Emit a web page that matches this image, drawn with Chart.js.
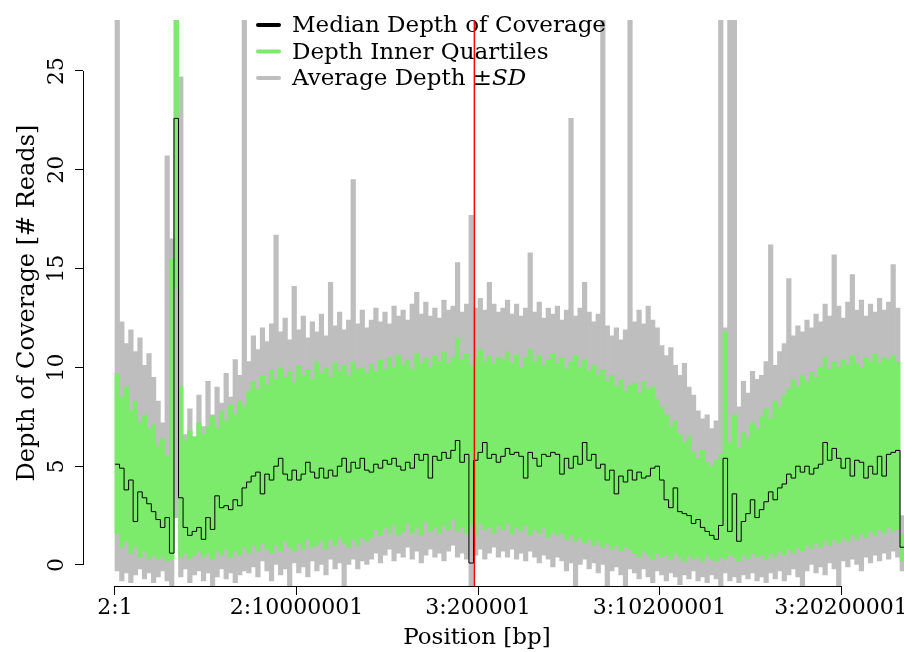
<!DOCTYPE html>
<html>
<head>
<meta charset="utf-8">
<style>
  html, body { margin: 0; padding: 0; background: #ffffff; }
</style>
</head>
<body>
<canvas id="depthChart" width="904" height="652"></canvas>
<script src="https://cdn.jsdelivr.net/npm/chart.js@4.4.1/dist/chart.umd.min.js"></script>
<script>
// genome axis in Mb (chr2 then chr3 concatenated), one value per 250 kb bin
var BIN_MB = 0.25;
var CHR_BOUNDARY_MB = 19.8;

var xTickValues = [0, 10, 20, 30, 40];
var xTickLabels = ['2:1', '2:10000001', '3:200001', '3:10200001', '3:20200001'];
var yTickValues = [0, 5, 10, 15, 20, 25];

var medianDepth = [
  5.1, 4.9, 3.8, 4.3, 2.2, 3.7, 3.4, 3.1, 2.7, 2.3,
  1.9, 2.4, 0.6, 22.6, 3.4, 1.9, 1.5, 1.7, 1.9, 1.3,
  2.4, 1.8, 3.5, 2.9, 3.0, 2.8, 3.3, 3.0, 3.9, 4.2,
  4.5, 4.7, 3.6, 4.6, 4.3, 5.0, 5.4, 4.6, 4.3, 4.8,
  4.3, 4.6, 5.2, 4.7, 4.4, 4.9, 4.4, 4.8, 4.5, 5.0,
  5.4, 4.7, 5.2, 4.9, 5.4, 4.8, 4.7, 5.1, 4.9, 5.3,
  5.1, 5.4, 5.0, 4.8, 5.2, 4.9, 5.6, 5.3, 5.6, 4.4,
  5.5, 5.3, 5.7, 5.4, 5.8, 6.3, 5.2, 5.6, 0.1, 5.3,
  5.7, 6.2, 5.4, 5.6, 5.2, 5.5, 5.9, 5.6, 5.7, 5.5,
  4.4, 5.7, 5.4, 5.0, 5.6, 5.5, 5.7, 5.6, 4.6, 5.4,
  4.9, 5.5, 5.1, 6.2, 5.3, 5.6, 4.9, 5.1, 4.3, 4.8,
  3.6, 4.5, 4.2, 4.8, 4.3, 4.7, 4.4, 4.5, 4.9, 5.0,
  4.3, 3.3, 2.9, 3.9, 2.7, 2.6, 2.5, 2.1, 2.3, 1.9,
  1.7, 1.5, 1.3, 2.0, 5.4, 1.7, 3.6, 1.2, 2.2, 2.6,
  3.3, 2.4, 2.8, 3.2, 3.7, 3.3, 3.9, 4.1, 4.6, 4.4,
  5.0, 4.7, 5.0, 4.6, 4.9, 5.1, 6.2, 5.3, 5.9, 5.4,
  4.9, 5.4, 4.5, 5.3, 5.2, 4.4, 5.0, 4.6, 5.5, 4.5,
  5.6, 5.7, 5.8, 0.9
];

var q1Depth = [
  1.6, 0.9, 1.2, 0.6, 0.9, 0.4, 0.7, 0.3, 0.5, 0.3,
  0.4, 0.2, 0.3, 14.0, 0.4, 0.6, 0.3, 0.5, 0.7, 0.4,
  0.6, 0.3, 0.7, 0.5, 0.8, 0.4, 0.7, 0.5, 0.9, 0.6,
  1.0, 0.7, 1.1, 0.8, 0.6, 1.0, 0.7, 1.2, 0.9, 0.7,
  1.1, 0.8, 1.3, 0.9, 1.0, 1.2, 0.8, 1.3, 1.0, 1.4,
  1.1, 0.9, 1.3, 1.0, 1.4, 1.2, 1.4, 1.8, 1.5, 1.9,
  1.6, 2.0, 1.5, 1.7, 2.1, 1.6, 1.9, 1.5, 2.2, 1.7,
  1.9, 1.6, 2.0, 1.8, 2.3, 1.7, 1.9, 1.6, 2.0, 1.5,
  2.1, 1.8, 1.9, 1.6, 2.0, 1.8, 2.1, 1.6, 1.9, 1.7,
  2.0, 1.5, 1.8, 1.6, 1.9, 1.4, 1.7, 1.5, 1.6, 1.3,
  1.5, 1.2, 1.4, 1.1, 1.3, 1.0, 1.2, 0.9, 1.1, 0.8,
  1.0, 0.7, 0.9, 0.8, 0.6, 0.4, 0.7, 0.5, 0.3, 0.6,
  0.4, 0.5, 0.3, 0.6, 0.4, 0.2, 0.5, 0.3, 0.4, 0.2,
  0.5, 0.3, 0.2, 0.4, 0.3, 0.5, 0.4, 0.2, 0.5, 0.3,
  0.6, 0.4, 0.5, 0.3, 0.6, 0.4, 0.7, 0.5, 0.8, 0.6,
  0.9, 0.7, 1.0, 0.8, 1.1, 0.9, 1.2, 1.0, 1.3, 1.1,
  1.4, 1.2, 1.5, 1.3, 1.6, 1.4, 1.7, 1.5, 1.8, 1.6,
  1.9, 1.7, 1.8, 0.2
];

var q3Depth = [
  9.7, 8.5, 9.0, 7.8, 8.3, 7.2, 7.6, 6.9, 7.1, 6.0,
  6.4, 5.5, 15.5, 30, 9.0, 6.3, 6.8, 6.5, 7.2, 6.6,
  7.0, 7.5, 6.9, 7.8, 7.3, 8.1, 7.6, 8.3, 8.0, 8.8,
  9.3, 8.9, 9.6, 9.1, 9.9, 9.4, 10.0, 9.5, 9.8, 9.2,
  10.1, 9.6, 9.9, 9.4, 10.3, 9.7, 10.0, 9.5, 10.2, 9.8,
  10.1, 9.6, 10.3, 9.9, 10.0, 9.7, 10.2, 9.8, 10.4, 9.9,
  10.5, 10.0, 10.6, 10.1, 10.4, 9.9, 10.7, 10.2, 10.5, 10.0,
  10.6, 10.3, 10.8, 10.2, 10.5, 11.5, 10.4, 10.7, 10.1, 10.5,
  10.9, 10.3, 10.6, 10.2, 10.5, 10.4, 10.8, 10.2, 10.6, 10.0,
  10.5, 10.9, 10.3, 10.6, 10.1, 10.4, 10.7, 10.2, 10.5, 9.9,
  10.3, 10.6, 10.0, 10.4, 9.8, 10.1, 9.6, 9.9, 9.3, 9.6,
  9.0, 9.4, 8.8, 9.1, 9.2, 8.7, 9.3, 8.9, 9.0, 8.4,
  8.0, 7.6, 7.0, 7.3, 6.6, 6.2, 6.5, 5.7, 5.4, 5.8,
  5.2, 5.0, 5.3, 5.6, 11.8, 6.2, 7.6, 5.9, 6.7, 6.4,
  7.2, 6.9, 7.5, 7.9, 7.4, 8.3, 8.0, 8.6, 8.9, 9.4,
  9.0, 9.6, 9.3, 9.8, 9.5, 10.0, 10.5, 9.9, 10.3, 10.0,
  10.4, 10.1, 10.6, 10.2, 10.0, 10.5, 10.3, 10.7, 10.2, 10.5,
  10.4, 10.6, 10.3, 1.6
];

var sdLow = [
  -0.3, -0.8, -0.4, -0.9, -0.5, -0.2, -0.7, -0.4, -0.9, -0.6,
  -0.3, -0.8, -1.1, 2.4, -0.6, -0.2, -0.9, -0.5, -0.3, -0.8,
  -0.4, -1.1, -0.6, -0.2, -0.7, -0.4, -0.9, -0.5, -0.3, -0.4,
  -0.1, -0.6, 0.2, -0.3, -0.8, 0.0, -0.5, -0.2, -1.1, 0.1,
  -0.4, -0.1, -0.6, 0.2, -0.3, 0.0, -0.5, 0.3, -0.2, 0.1,
  -1.1, 0.0, 0.3, -0.2, 0.2, 0.0, 0.3, 0.6, 0.1, 0.5,
  0.8, 0.2, 0.6, 0.4, 0.9, 0.3, 0.7, 0.1, 0.5, 0.8,
  0.4, 0.6, 0.2, 0.7, 1.0, 0.4, 0.6, 0.3, -1.1, 0.5,
  0.8, 0.3, 0.6, 0.9, 0.4, 0.7, 0.4, 0.8, 0.3, 0.6,
  0.2, 0.7, 0.4, 0.1, 0.5, 0.3, -0.1, 0.4, 0.2, -0.3,
  0.1, -1.1, 0.0, 0.3, -0.2, 0.1, -0.4, 0.0, -1.1, -0.3,
  -0.1, -0.5, -1.1, -0.2, -0.4, -0.7, -0.2, -0.6, -0.9, -0.3,
  -0.5, -0.8, -0.4, -0.6, -1.0, -0.5, -0.7, -0.3, -0.8, -0.6,
  -0.9, -0.5, -0.7, -1.1, -0.4, -0.8, -0.6, -0.9, -0.5, -0.7,
  -0.4, -0.8, -0.6, -0.9, -0.4, -0.7, -0.3, -0.8, -0.5, -0.2,
  -0.6, -1.1, -0.3, 0.0, -0.4, -0.1, -0.5, 0.1, -0.2, -1.1,
  0.2, -0.1, 0.3, 0.0, -0.3, 0.4, 0.1, 0.5, 0.2, 0.6,
  0.3, 0.7, 0.4, -0.3
];

var sdHigh = [
  30, 12.3, 11.2, 11.9, 10.8, 11.5, 10.1, 10.7, 9.5, 8.3,
  7.2, 20.7, 16.5, 30, 24.7, 6.6, 7.9, 6.3, 8.6, 7.0,
  9.3, 7.6, 9.0, 8.2, 9.7, 8.5, 10.4, 9.6, 30, 10.3,
  11.6, 10.9, 12.0, 11.3, 12.2, 16.7, 11.8, 12.5, 11.4, 14.1,
  11.9, 12.6, 11.5, 12.3, 11.8, 12.7, 11.6, 14.3, 12.1, 12.8,
  11.9, 12.4, 19.5, 12.2, 12.9, 12.0, 12.4, 13.0, 12.3, 12.8,
  12.2, 13.1, 12.6, 12.9, 12.4, 13.2, 13.8, 12.7, 13.3, 12.6,
  13.0, 12.5, 13.4, 12.9, 13.1, 15.3, 12.8, 13.2, 17.7, 13.0,
  13.5, 12.9, 14.3, 13.2, 12.8, 13.0, 13.4, 12.7, 13.2, 12.6,
  13.0, 15.8, 12.8, 13.3, 12.5, 13.0, 12.7, 13.1, 12.4, 12.9,
  22.6, 12.6, 13.0, 14.3, 12.8, 12.3, 12.7, 30, 12.1, 11.6,
  12.0, 11.4, 11.9, 30, 12.3, 12.9, 12.2, 13.1, 12.4, 12.0,
  11.1, 10.6, 11.0, 10.1, 9.6, 10.2, 9.0, 8.6, 7.8, 7.4,
  7.6, 6.9, 7.3, 30, 12.0, 30, 30, 8.0, 9.3, 8.7,
  9.8, 9.4, 9.6, 10.3, 16.2, 10.1, 10.8, 11.2, 14.5, 11.6,
  12.1, 11.8, 12.4, 12.0, 12.7, 12.3, 13.2, 12.6, 15.7, 13.1,
  12.5, 13.3, 14.7, 12.9, 13.4, 12.6, 13.2, 12.8, 13.5, 12.9,
  13.3, 15.2, 13.0, 2.5
];

var GRAY = '#bebebe';
var GREEN = 'rgb(124, 235, 108)';
var FONT = "'DejaVu Serif', serif";
// right end of the R plot region (the axis title is centred on it)
var X_REGION_MAX = 41.65;

function band(lo, hi) {
  return lo.map(function (v, i) {
    return { x: (i + 0.5) * BIN_MB, y: [v, hi[i]] };
  });
}

var medianPoints = medianDepth.map(function (v, i) {
  return { x: i * BIN_MB, y: v };
});
medianPoints.push({ x: medianDepth.length * BIN_MB, y: medianDepth[medianDepth.length - 1] });

function drawLegend(chart) {
  var ctx = chart.ctx;
  var rows = [
    { color: '#000000', text: 'Median Depth of Coverage', italic: '' },
    { color: GREEN, text: 'Depth Inner Quartiles', italic: '' },
    { color: GRAY, text: 'Average Depth \u00b1', italic: 'SD' }
  ];
  ctx.save();
  ctx.lineWidth = 4;
  ctx.lineCap = 'round';
  ctx.textBaseline = 'alphabetic';
  ctx.fillStyle = '#000';
  rows.forEach(function (r, i) {
    var y = 25 + i * 26.5;
    ctx.strokeStyle = r.color;
    ctx.beginPath();
    ctx.moveTo(258, y);
    ctx.lineTo(279, y);
    ctx.stroke();
    ctx.font = '23px ' + FONT;
    ctx.fillText(r.text, 292, y + 7);
    if (r.italic) {
      var w = ctx.measureText(r.text).width;
      ctx.font = 'italic 23px ' + FONT;
      ctx.fillText(r.italic, 292 + w, y + 7);
    }
  });
  ctx.restore();
}

// legend goes on top of the bands and median, under the red boundary line
var legendPlugin = {
  id: 'rLegend',
  afterDatasetDraw: function (chart, args) {
    if (args.index === 1) drawLegend(chart);
  }
};

// R style axis lines (first to last tick only) and the x axis title
var axisLinePlugin = {
  id: 'rAxisLines',
  afterDatasetsDraw: function (chart) {
    var ctx = chart.ctx;
    var xs = chart.scales.x, ys = chart.scales.y;
    var left = chart.chartArea.left, bottom = chart.chartArea.bottom;
    ctx.save();
    ctx.strokeStyle = '#000';
    ctx.lineWidth = 1;
    ctx.beginPath();
    ctx.moveTo(left + 0.5, ys.getPixelForValue(yTickValues[0]));
    ctx.lineTo(left + 0.5, ys.getPixelForValue(yTickValues[yTickValues.length - 1]));
    ctx.moveTo(xs.getPixelForValue(xTickValues[0]), bottom + 0.5);
    ctx.lineTo(xs.getPixelForValue(xTickValues[xTickValues.length - 1]), bottom + 0.5);
    ctx.stroke();
    ctx.fillStyle = '#000';
    ctx.font = '23px ' + FONT;
    ctx.textAlign = 'center';
    ctx.textBaseline = 'middle';
    ctx.fillText('Position [bp]', (left + xs.getPixelForValue(X_REGION_MAX)) / 2, chart.height - 14);
    ctx.restore();
  }
};

Chart.defaults.font.family = FONT;
Chart.defaults.color = '#000';

var ctx = document.getElementById('depthChart').getContext('2d');
var depthChart = new Chart(ctx, {
  type: 'bar',
  data: {
    datasets: [
      {
        type: 'line',
        label: 'chromosome boundary',
        data: [{ x: CHR_BOUNDARY_MB, y: -2 }, { x: CHR_BOUNDARY_MB, y: 30 }],
        borderColor: '#ff0000',
        borderWidth: 1.5,
        pointRadius: 0,
        order: 0
      },
      {
        type: 'line',
        label: 'Median Depth of Coverage',
        data: medianPoints,
        borderColor: '#000000',
        borderWidth: 1,
        pointRadius: 0,
        stepped: true,
        fill: false,
        order: 1
      },
      {
        label: 'Depth Inner Quartiles',
        data: band(q1Depth, q3Depth),
        backgroundColor: GREEN,
        borderWidth: 0,
        barPercentage: 1,
        categoryPercentage: 1,
        grouped: false,
        order: 2
      },
      {
        label: 'Average Depth \u00b1SD',
        data: band(sdLow, sdHigh),
        backgroundColor: GRAY,
        borderWidth: 0,
        barPercentage: 1,
        categoryPercentage: 1,
        grouped: false,
        order: 3
      }
    ]
  },
  options: {
    responsive: false,
    animation: false,
    events: [],
    layout: { padding: { top: 20, right: 0, left: 0, bottom: 0 } },
    plugins: { legend: { display: false }, tooltip: { enabled: false } },
    scales: {
      x: {
        type: 'linear',
        min: -1.763,
        max: 43.47,
        offset: false,
        afterBuildTicks: function (s) {
          s.ticks = xTickValues.map(function (v) { return { value: v }; });
        },
        afterFit: function (s) {
          s.height = 66;
          s.paddingLeft = 0;
          s.paddingRight = 0;
        },
        ticks: {
          autoSkip: false,
          maxRotation: 0,
          padding: 0,
          font: { size: 22 },
          callback: function (value, index) { return xTickLabels[index]; }
        },
        grid: { display: true, offset: false, drawOnChartArea: false, drawTicks: true, tickLength: 9, color: '#000' },
        border: { display: false },
        title: { display: false }
      },
      y: {
        type: 'linear',
        min: -1.063,
        max: 27.58,
        afterBuildTicks: function (s) {
          s.ticks = yTickValues.map(function (v) { return { value: v }; });
        },
        afterFit: function (s) {
          s.width = 83;
          s.paddingTop = 0;
          s.paddingBottom = 0;
        },
        ticks: {
          minRotation: 90,
          maxRotation: 90,
          crossAlign: 'center',
          padding: 4,
          font: { size: 22 }
        },
        grid: { display: true, drawOnChartArea: false, drawTicks: true, tickLength: 8, color: '#000' },
        border: { display: false },
        title: { display: true, text: 'Depth of Coverage [# Reads]', font: { size: 24 }, padding: { top: 13, bottom: 0 } }
      }
    }
  },
  plugins: [legendPlugin, axisLinePlugin]
});
</script>
</body>
</html>
